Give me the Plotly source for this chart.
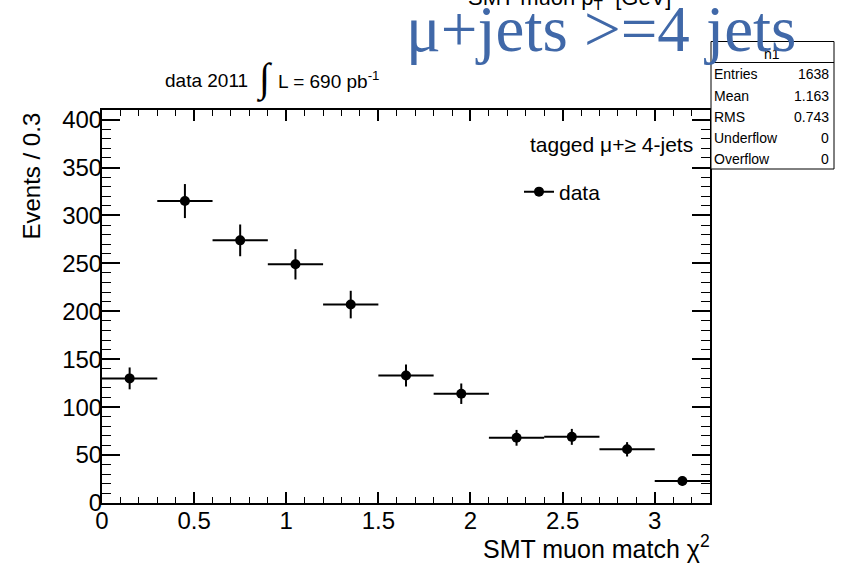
import numpy as np
import plotly.graph_objects as go

# Histogram content: SMT muon match chi2, bins of 0.3
bin_width = 0.3
bin_centers = [0.15, 0.45, 0.75, 1.05, 1.35, 1.65, 1.95, 2.25, 2.55, 2.85, 3.15]
events = [130, 315, 274, 249, 207, 133, 114, 68, 69, 56, 23]

# Statistics box content
stats_labels = ["Entries", "Mean", "RMS", "Underflow", "Overflow"]
stats_values = ["1638", "1.163", "0.743", "0", "0"]

errors = np.sqrt(np.array(events, dtype=float))

W, H = 841, 565
L, R, T, B = 102, 710, 110, 503  # frame in pixels


def px(x):
    return (x - L) / (R - L)


def py(y):
    return (B - y) / (B - T)


SANS = "Liberation Sans"
SERIF = "Liberation Serif"

fig = go.Figure()

fig.add_trace(go.Scatter(
    x=bin_centers, y=events, mode="markers",
    marker=dict(size=10, color="black"),
    error_x=dict(type="constant", value=bin_width / 2, thickness=2, width=0, color="black"),
    error_y=dict(type="data", array=errors, thickness=2, width=0, color="black"),
    showlegend=False,
))

# legend entry (line through marker, like a ROOT "lp" entry)
fig.add_trace(go.Scatter(
    x=[None], y=[None], mode="lines+markers", name="data",
    line=dict(color="black", width=2),
    marker=dict(size=10, color="black"),
))

axis_common = dict(
    showline=True, linecolor="black", linewidth=2, mirror="ticks",
    ticks="inside", tickcolor="black", showgrid=False, zeroline=False,
    tickfont=dict(family=SANS, size=24, color="black"),
)

fig.update_xaxes(
    range=[0, 3.3], tick0=0, dtick=0.5, ticklen=11, tickwidth=1.5,
    ticklabelstandoff=-5,
    minor=dict(ticks="inside", dtick=0.1, tick0=0, ticklen=6, tickwidth=1,
               tickcolor="black", showgrid=False),
    **axis_common,
)
fig.update_yaxes(
    range=[0, 410], tick0=0, dtick=50, ticklen=18, tickwidth=1.5,
    ticklabelstandoff=-7,
    minor=dict(ticks="inside", dtick=10, tick0=0, ticklen=9, tickwidth=1,
               tickcolor="black", showgrid=False),
    **axis_common,
)

shapes = []
annotations = []


def text(x, y, s, size, family=SANS, color="black", xanchor="left", yanchor="middle", angle=0):
    annotations.append(dict(
        x=px(x), y=py(y), xref="paper", yref="paper", text=s, showarrow=False,
        xanchor=xanchor, yanchor=yanchor, textangle=angle,
        font=dict(family=family, size=size, color=color),
        borderpad=0, borderwidth=0,
    ))


# histogram title, partly cut off at the top of the canvas
text(569, -1, "SMT muon p<sub>T</sub>  [GeV]", 22, xanchor="center")

# statistics box
shapes.append(dict(type="rect", xref="paper", yref="paper",
                   x0=px(711), x1=px(834), y0=py(169), y1=py(41.5),
                   line=dict(color="black", width=1), fillcolor="white", layer="above"))
shapes.append(dict(type="line", xref="paper", yref="paper",
                   x0=px(711), x1=px(834), y0=py(62.5), y1=py(62.5),
                   line=dict(color="black", width=1), layer="above"))
text(772, 54, "h1", 14, xanchor="center")
row_y = [74.4, 95.6, 116.8, 137.8, 158.6]
for lab, val, yy in zip(stats_labels, stats_values, row_y):
    text(714, yy, lab, 14)
    text(829, yy, val, 14, xanchor="right")

# luminosity label
text(165, 80.0, "data 2011", 19)
text(256, 79, "∫", 40, family=SERIF)
text(278, 80.0, "L = 690 pb<sup>-1</sup>", 19)

# channel label
text(406, 29.5, "μ+jets >=4 jets", 65, family=SERIF, color="#4068a8")

# legend header
text(530, 144, "tagged μ+≥ 4-jets", 21)

# axis titles
text(710, 547, "SMT muon match χ<sup>2</sup>", 25, xanchor="right")
text(31, 113, "Events / 0.3", 24, xanchor="center", yanchor="top", angle=-90)

fig.update_layout(
    width=W, height=H, autosize=False,
    margin=dict(l=L, r=W - R, t=T, b=H - B, pad=0),
    paper_bgcolor="white", plot_bgcolor="white",
    shapes=shapes, annotations=annotations,
    legend=dict(x=px(519), y=py(192), xanchor="left", yanchor="middle",
                bgcolor="rgba(0,0,0,0)", borderwidth=0,
                font=dict(family=SANS, size=21, color="black")),
)

fig.write_html("out.html")
